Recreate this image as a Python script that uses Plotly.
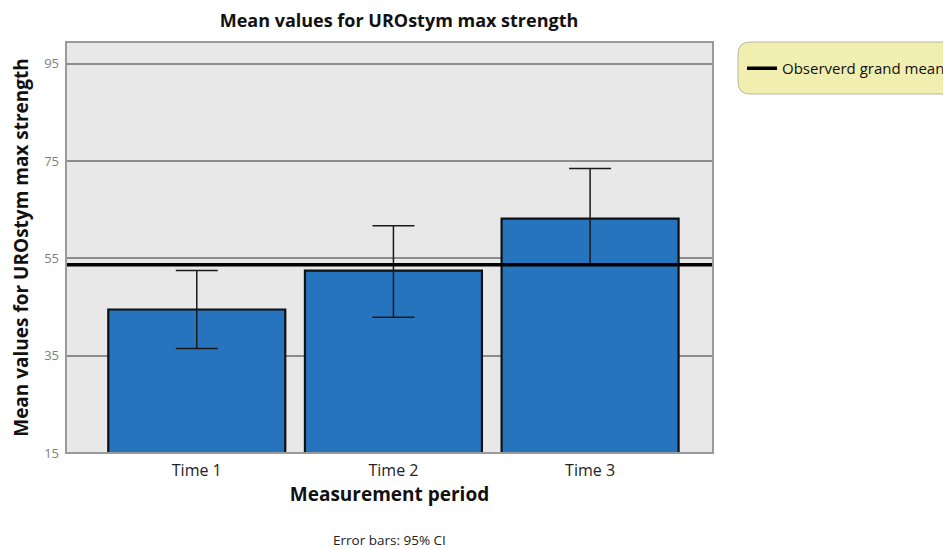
import plotly.graph_objects as go

categories = ["Time 1", "Time 2", "Time 3"]
means = [44.5, 52.5, 63.2]
ci_upper = [52.5, 61.7, 73.5]
ci_lower = [36.5, 42.9, 53.7]
grand_mean = 53.7
y_ticks = [15, 35, 55, 75, 95]

err_plus = [u - m for u, m in zip(ci_upper, means)]
err_minus = [m - l for m, l in zip(means, ci_lower)]

FONT = "Open Sans"
# page body has an 8px margin; compensate so the plot lands where the reference has it
OFF = 8
PL, PR, PT, PB = 66 - OFF, 713 - OFF, 42 - OFF, 453 - OFF
PW, PH = PR - PL, PB - PT

fig = go.Figure()
fig.add_trace(go.Bar(
    x=categories, y=means, width=0.9,
    marker=dict(color="#2774be", line=dict(color="#111111", width=2.2)),
    error_y=dict(type="data", symmetric=False, array=err_plus, arrayminus=err_minus,
                 color="#1a1a1a", thickness=1.5, width=21),
    showlegend=False, hoverinfo="skip",
))
fig.add_trace(go.Scatter(
    x=[0, 1], y=[grand_mean, grand_mean], xaxis="x2", mode="lines",
    line=dict(color="#000000", width=3.5), name="Observerd grand mean",
    showlegend=True,
))

# plot frame
fig.add_shape(type="rect", xref="paper", yref="paper", x0=0, x1=1, y0=0, y1=1,
              line=dict(color="#9a9a9a", width=2), layer="above")
# legend rounded box
x0p, x1p = (738 - 66) / PW, (965 - 66) / PW
y1p, y0p = (453 - 42) / PH, (453 - 94) / PH
rx, ry = 12 / PW, 12 / PH
path = (f"M {x0p+rx},{y1p} L {x1p},{y1p} L {x1p},{y0p} L {x0p+rx},{y0p} "
        f"Q {x0p},{y0p} {x0p},{y0p+ry} L {x0p},{y1p-ry} Q {x0p},{y1p} {x0p+rx},{y1p} Z")
fig.add_shape(type="path", xref="paper", yref="paper", path=path,
              fillcolor="#f1efb0", line=dict(color="#b8b8a8", width=1), layer="below")

fig.add_annotation(text="Error bars: 95% CI", xref="paper", yref="paper",
                   x=0.5, y=(453 - 540) / PH, yanchor="middle", showarrow=False,
                   font=dict(family=FONT, size=13.5, color="#222222"))

fig.update_layout(
    width=951, height=549,
    margin=dict(l=PL, r=951 - PR, t=PT, b=549 - PB, autoexpand=False),
    paper_bgcolor="white", plot_bgcolor="#e8e8e8",
    font=dict(family=FONT, color="#222222"),
    title=dict(text="<b>Mean values for UROstym max strength</b>", x=(399 - 66) / PW,
               xref="paper", xanchor="center", y=1 - (21 - OFF) / 549, yanchor="middle",
               font=dict(family=FONT, size=18, color="#111111")),
    xaxis=dict(range=[-0.665, 2.625], showgrid=False, showline=False, ticks="",
               ticklabelstandoff=6,
               tickfont=dict(family=FONT, size=16, color="#222222"),
               title=dict(text="<b>Measurement period</b>", standoff=7,
                          font=dict(family=FONT, size=19, color="#111111"))),
    xaxis2=dict(overlaying="x", range=[0, 1], visible=False),
    yaxis=dict(range=[15, 99.5], tickvals=y_ticks, showgrid=True, gridcolor="#8c8c8c",
               gridwidth=1.5, zeroline=False, showline=False, ticks="",
               ticklabelstandoff=6,
               tickfont=dict(family=FONT, size=13, color="#808080"),
               title=dict(text="<b>Mean values for UROstym max strength</b>", standoff=11,
                          font=dict(family=FONT, size=19, color="#111111"))),
    legend=dict(x=(742 - 66) / PW, xanchor="left", y=1 - 10 / PH, yanchor="top",
                bgcolor="rgba(0,0,0,0)", borderwidth=0,
                font=dict(family=FONT, size=15, color="#111111")),
)

fig.write_html("out.html")
